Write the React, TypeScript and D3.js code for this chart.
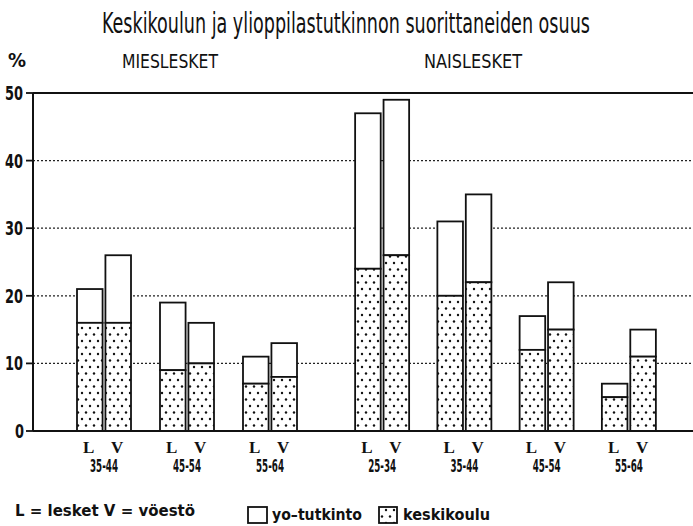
import React, { useLayoutEffect, useRef, useState } from "react";
import * as d3 from "d3";

const W = 693;
const H = 526;

const menAges = ["35-44", "45-54", "55-64"];
const womenAges = ["25-34", "35-44", "45-54", "55-64"];
const subGroups = ["L", "V"];

// totals (yo-tutkinto top) and keskikoulu values, [L, V]
const menTotal = [[21, 26], [19, 16], [11, 13]];
const menKesk = [[16, 16], [9, 10], [7, 8]];
const womenTotal = [[47, 49], [31, 35], [17, 22], [7, 15]];
const womenKesk = [[24, 26], [20, 22], [12, 15], [5, 11]];

const yTicks = [0, 10, 20, 30, 40, 50];
const title = "Keskikoulun ja ylioppilastutkinnon suorittaneiden osuus";

const narrow = "'Liberation Sans Narrow', 'DejaVu Sans Condensed', sans-serif";

export default function App() {
  const y = d3.scaleLinear().domain([0, 50]).range([431, 93]);
  const xMen = d3.scaleBand().domain(menAges).range([62.5, 311.5]).paddingInner(0);
  const xWomen = d3.scaleBand().domain(womenAges).range([341, 670]).paddingInner(0);
  const xSub = d3.scaleBand().domain(subGroups).range([-27, 27]).paddingInner(0.1);

  const titleRef = useRef<SVGTextElement>(null);
  const [sx, setSx] = useState(1);
  useLayoutEffect(() => {
    if (titleRef.current) {
      const w = titleRef.current.getComputedTextLength();
      if (w > 0) setSx(488 / w);
    }
  }, []);

  const groups = [
    ...menAges.map((a, i) => ({ key: "m" + a, age: a, cx: xMen(a)! + xMen.bandwidth() / 2, tot: menTotal[i], kes: menKesk[i] })),
    ...womenAges.map((a, i) => ({ key: "w" + a, age: a, cx: xWomen(a)! + xWomen.bandwidth() / 2, tot: womenTotal[i], kes: womenKesk[i] })),
  ];

  const axisX = 33;
  const right = 693;

  return (
    <svg width={W} height={H} style={{ position: "absolute", left: 0, top: 0, background: "#fff" }}>
      <defs>
        <pattern id="dots" width="8" height="13" patternUnits="userSpaceOnUse">
          <rect width="8" height="13" fill="#fff" />
          <circle cx="2" cy="3" r="1.2" fill="#111" />
          <circle cx="6" cy="9.5" r="1.2" fill="#111" />
        </pattern>
      </defs>
      <g transform={`translate(102,33) scale(${sx},1)`}>
        <text ref={titleRef} x={0} y={0} fontFamily={narrow} fontSize={29} fill="#111">
          {title}
        </text>
      </g>
      <text x={8} y={67} fontFamily={narrow} fontWeight="bold" fontSize={20} fill="#111">%</text>
      <text x={122} y={68} fontFamily={narrow} fontSize={20} textLength={96} lengthAdjust="spacingAndGlyphs" fill="#111">MIESLESKET</text>
      <text x={424} y={68} fontFamily={narrow} fontSize={20} textLength={98} lengthAdjust="spacingAndGlyphs" fill="#111">NAISLESKET</text>

      {/* gridlines */}
      {yTicks.filter((t) => t > 0 && t < 50).map((t) => (
        <line key={"g" + t} x1={axisX} x2={right} y1={y(t)} y2={y(t)} stroke="#222" strokeWidth={1.3} strokeDasharray="2,2" />
      ))}
      <line x1={axisX} x2={right} y1={y(50)} y2={y(50)} stroke="#111" strokeWidth={2} />

      {/* bars */}
      {groups.map((g) => (
        <g key={g.key}>
          {subGroups.map((s, j) => {
            const x0 = g.cx + xSub(s)!;
            const bw = xSub.bandwidth();
            return (
              <g key={s}>
                <rect x={x0} y={y(g.tot[j])} width={bw} height={y(g.kes[j]) - y(g.tot[j])} fill="#fff" stroke="#111" strokeWidth={1.8} />
                <rect x={x0} y={y(g.kes[j])} width={bw} height={y(0) - y(g.kes[j])} fill="url(#dots)" stroke="#111" strokeWidth={1.8} />
                <text x={x0 + bw / 2 - 1} y={453} textAnchor="middle" fontFamily="'Liberation Serif', serif" fontWeight="bold" fontSize={17} fill="#111">{s}</text>
              </g>
            );
          })}
          <text x={g.cx} y={472} textAnchor="middle" fontFamily={narrow} fontWeight="bold" fontSize={17} textLength={28} lengthAdjust="spacingAndGlyphs" fill="#111">{g.age}</text>
        </g>
      ))}

      {/* axes */}
      <line x1={axisX} x2={axisX} y1={y(50)} y2={y(0)} stroke="#111" strokeWidth={2} />
      <line x1={axisX} x2={right} y1={y(0)} y2={y(0)} stroke="#111" strokeWidth={2} />
      {yTicks.map((t) => (
        <g key={"t" + t}>
          <line x1={axisX - 7} x2={axisX} y1={y(t)} y2={y(t)} stroke="#111" strokeWidth={1.8} />
          <text
            x={t === 0 ? 15 : 5}
            y={y(t) + 7}
            fontFamily={narrow}
            fontWeight="bold"
            fontSize={20}
            textLength={t === 0 ? 9 : 18}
            lengthAdjust="spacingAndGlyphs"
            fill="#111"
          >
            {t}
          </text>
        </g>
      ))}

      {/* legend */}
      <text x={15} y={516} fontFamily="'DejaVu Sans', sans-serif" fontWeight="bold" fontSize={15} textLength={180} lengthAdjust="spacingAndGlyphs" fill="#111">L = lesket  V = vöestö</text>
      <rect x={248} y={507} width={19} height={16} fill="#fff" stroke="#111" strokeWidth={1.8} />
      <text x={272} y={520} fontFamily="'DejaVu Sans', sans-serif" fontWeight="bold" fontSize={15} textLength={90} lengthAdjust="spacingAndGlyphs" fill="#111">yo–tutkinto</text>
      <rect x={379} y={507} width={18} height={16} fill="url(#dots)" stroke="#111" strokeWidth={1.8} />
      <text x={403} y={520} fontFamily="'DejaVu Sans', sans-serif" fontWeight="bold" fontSize={15} textLength={87} lengthAdjust="spacingAndGlyphs" fill="#111">keskikoulu</text>
    </svg>
  );
}
